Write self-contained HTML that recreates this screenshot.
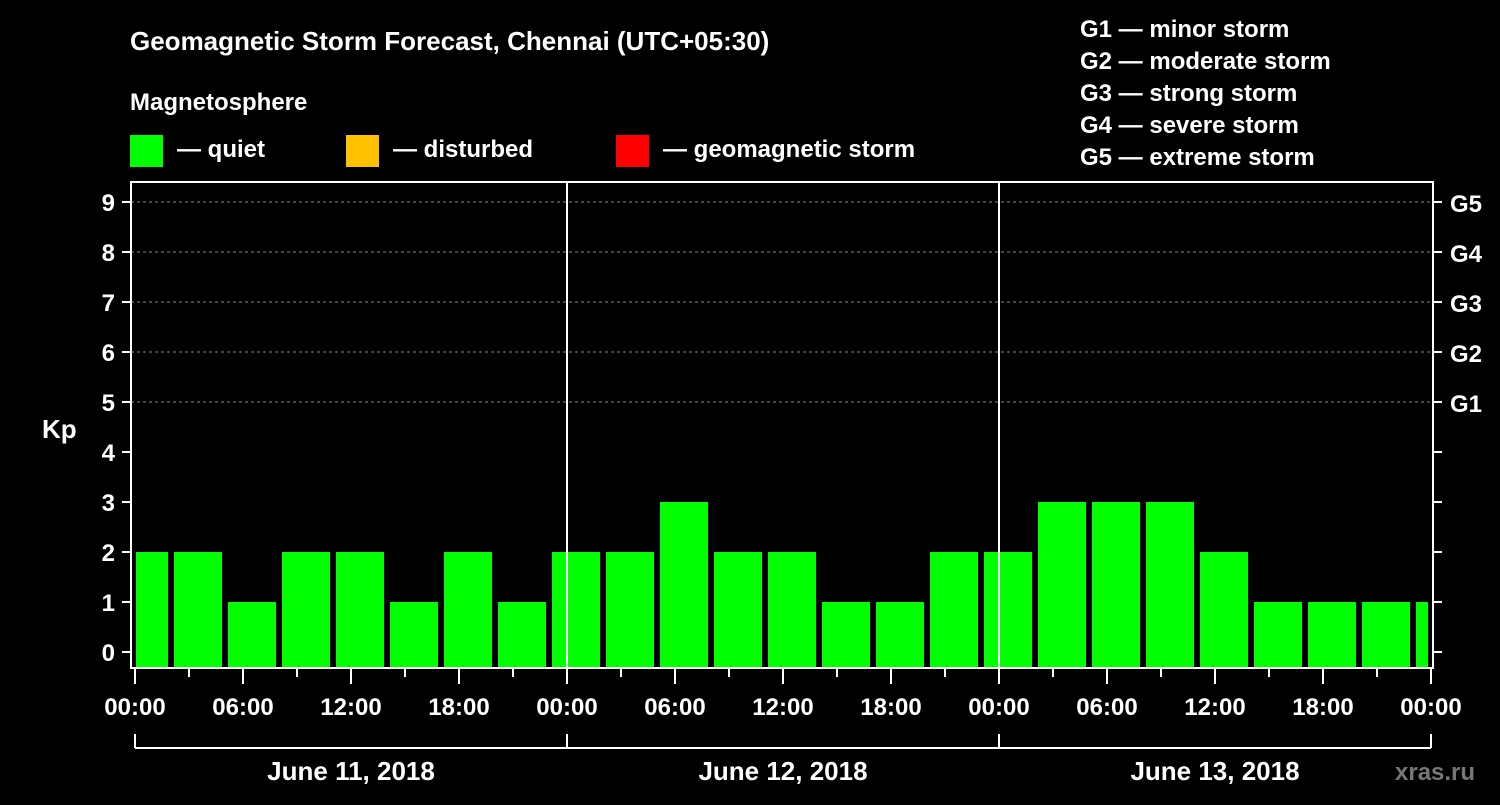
<!DOCTYPE html>
<html><head><meta charset="utf-8"><style>
body{margin:0;background:#000;width:1500px;height:800px;overflow:hidden}
svg text{font-family:"Liberation Sans",sans-serif;font-weight:bold;fill:#fff}
</style></head><body>
<svg id="c" width="1500" height="800">
<text x="130" y="50" font-size="26">Geomagnetic Storm Forecast, Chennai (UTC+05:30)</text>
<text x="130" y="110" font-size="24">Magnetosphere</text>
<g><rect x="130" y="135" width="33" height="32" fill="#00ff00"/><text x="177" y="157" font-size="24">— quiet</text></g>
<g><rect x="346" y="135" width="33" height="32" fill="#ffc000"/><text x="393" y="157" font-size="24">— disturbed</text></g>
<g><rect x="616" y="135" width="33" height="32" fill="#ff0000"/><text x="663" y="157" font-size="24">— geomagnetic storm</text></g>
<g font-size="24">
<text x="1080" y="37">G1 — minor storm</text>
<text x="1080" y="69">G2 — moderate storm</text>
<text x="1080" y="101">G3 — strong storm</text>
<text x="1080" y="133">G4 — severe storm</text>
<text x="1080" y="165">G5 — extreme storm</text>
</g>
<text x="42" y="438" font-size="26">Kp</text>
<text x="1395" y="780" font-size="24" style="fill:#777">xras.ru</text>
<g id="g"></g>
</svg>
<script>
const barStartHours=[-1,2,5,8,11,14,17,20,23,26,29,32,35,38,41,44,47,50,53,56,59,62,65,68,71];
const kpValues=[2,2,1,2,2,1,2,1,2,2,3,2,2,1,1,2,2,3,3,3,2,1,1,1,1];
const dayLabels=["June 11, 2018","June 12, 2018","June 13, 2018"];
const timeLabels=["00:00","06:00","12:00","18:00"];
const gLabels=["G1","G2","G3","G4","G5"];
const X0=135,PXH=18,L=131,R=1433,T=182,B=668;
const x=h=>X0+h*PXH, y=k=>652-k*50;
const g=document.getElementById('g'),NS='http://www.w3.org/2000/svg';
function mk(t,a,txt){const e=document.createElementNS(NS,t);for(const k in a)e.setAttribute(k,a[k]);if(txt!=null)e.textContent=txt;g.appendChild(e);return e;}
for(let k=5;k<=9;k++){const e=mk('line',{x1:L,x2:R,y1:y(k),y2:y(k),stroke:'#888','stroke-dasharray':'3,3'});

}
barStartHours.forEach((h,i)=>{const x1=Math.max(x(h)+3,L+5),x2=Math.min(x(h+3)-3,R-5);
const e=mk('rect',{x:x1,y:y(kpValues[i]),width:x2-x1,height:B-y(kpValues[i]),fill:'#00ff00'});

});
for(let d=1;d<3;d++){const e=mk('line',{x1:x(d*24),x2:x(d*24),y1:T,y2:B,stroke:'#fff','stroke-width':2});

}
const fr=mk('rect',{x:L,y:T,width:R-L,height:B-T,fill:'none',stroke:'#fff','stroke-width':2});


for(let k=0;k<=9;k++){mk('line',{x1:122,x2:L,y1:y(k),y2:y(k),stroke:'#fff','stroke-width':2});
mk('line',{x1:R,x2:1442,y1:y(k),y2:y(k),stroke:'#fff','stroke-width':2});
const t=mk('text',{x:115,y:y(k)+9,'font-size':24,'text-anchor':'end'},String(k));

}
gLabels.forEach((s,i)=>{const t=mk('text',{x:1450,y:y(5+i)+10,'font-size':24},s);

});
for(let h=0;h<=72;h+=3){const major=h%6==0;mk('line',{x1:x(h),x2:x(h),y1:B,y2:B+(major?16:9),stroke:'#fff','stroke-width':2});
if(major){const t=mk('text',{x:x(h),y:715,'font-size':24,'text-anchor':'middle'},timeLabels[(h/6)%4]);

}}
mk('line',{x1:x(0),x2:x(72),y1:748,y2:748,stroke:'#fff','stroke-width':2});
for(let d=0;d<=3;d++)mk('line',{x1:x(d*24),x2:x(d*24),y1:734,y2:748,stroke:'#fff','stroke-width':2});
dayLabels.forEach((s,d)=>{const t=mk('text',{x:x(d*24+12),y:780,'font-size':26,'text-anchor':'middle'},s);

});
</script>
</body></html>
